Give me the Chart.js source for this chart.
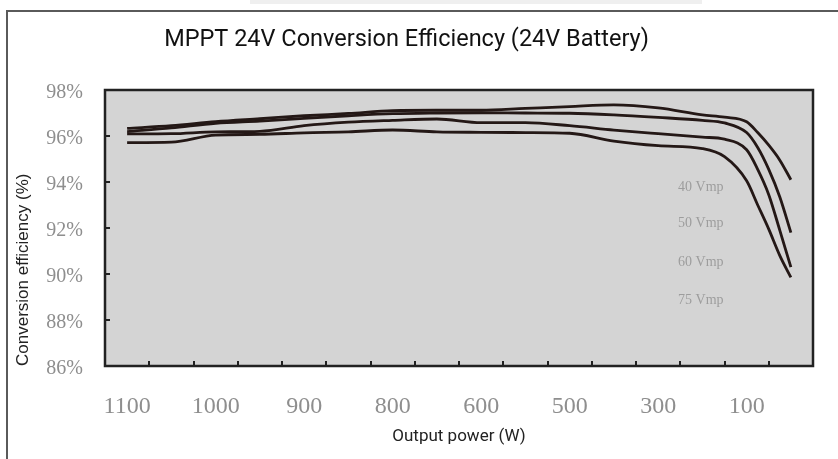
<!DOCTYPE html>
<html>
<head>
<meta charset="utf-8">
<script src="https://cdn.jsdelivr.net/npm/chart.js@4.4.1/dist/chart.umd.min.js"></script>
<style>
  html, body { margin: 0; padding: 0; background: #fff; }
  canvas { display: block; }
</style>
</head>
<body>
<canvas id="effChart" width="838" height="459"></canvas>
<script>
// output power labels under the axis, and where they sit on the index scale
var powerLabels = ['1100', '1000', '900', '800', '600', '500', '300', '100'];
var powerLabelPos = [0.5, 2.5, 4.5, 6.5, 8.5, 10.5, 12.5, 14.5];

// shared sampling positions along the x scale
var samplePos = [0.5, 1.5, 2.5, 3.5, 4.5, 5.5, 6.5, 7.5, 8.5, 9.5, 10.5, 11.5, 12.5, 13.5, 14, 14.5, 14.75, 15, 15.25, 15.5];

// efficiency (%) per input voltage
var eff40 = [96.33, 96.45, 96.62, 96.75, 96.88, 96.98, 97.10, 97.12, 97.12, 97.20, 97.28, 97.35, 97.22, 96.92, 96.82, 96.62, 96.15, 95.60, 94.95, 94.10];
var eff50 = [96.19, 96.35, 96.55, 96.65, 96.77, 96.88, 96.97, 97.00, 97.01, 97.00, 96.99, 96.92, 96.81, 96.68, 96.57, 96.15, 95.50, 94.55, 93.35, 91.80];
var eff60 = [96.09, 96.10, 96.18, 96.20, 96.45, 96.60, 96.68, 96.74, 96.58, 96.58, 96.45, 96.26, 96.10, 95.95, 95.86, 95.40, 94.55, 93.45, 91.90, 90.30];
var eff75 = [95.71, 95.73, 96.04, 96.07, 96.14, 96.18, 96.26, 96.18, 96.16, 96.15, 96.12, 95.78, 95.58, 95.45, 95.10, 94.05, 93.00, 91.95, 90.80, 89.85];

var seriesNames = ['40 Vmp', '50 Vmp', '60 Vmp', '75 Vmp'];
var yTicks = [86, 88, 90, 92, 94, 96, 98];

function toPoints(vals) {
    return vals.map(function(v, i) { return { x: samplePos[i], y: v }; });
}

var lineColor = '#241816';

// frame, plot background, inner tick marks and curve labels
var decor = {
    id: 'decor',
    beforeDraw: function(chart) {
        var c = chart.ctx, a = chart.chartArea;
        c.save();
        c.fillStyle = '#fff';
        c.fillRect(0, 0, chart.width, chart.height);
        c.fillStyle = '#efefef';
        c.fillRect(250, 0, 452, 4);
        c.strokeStyle = '#5a5a5a';
        c.lineWidth = 2;
        c.beginPath();
        c.moveTo(7, chart.height);
        c.lineTo(7, 11);
        c.lineTo(chart.width, 11);
        c.stroke();
        c.fillStyle = '#d4d4d4';
        c.fillRect(a.left, a.top, a.right - a.left, a.bottom - a.top);
        c.restore();
    },
    afterDatasetsDraw: function(chart) {
        var c = chart.ctx, a = chart.chartArea;
        var xs = chart.scales.x, ys = chart.scales.y;
        c.save();
        c.strokeStyle = '#222';
        c.lineWidth = 2;
        for (var i = 1; i <= 15; i++) {
            var px = Math.round(xs.getPixelForValue(i));
            c.beginPath();
            c.moveTo(px, a.bottom);
            c.lineTo(px, a.bottom - 5);
            c.stroke();
        }
        for (var j = 1; j < yTicks.length - 1; j++) {
            var py = Math.round(ys.getPixelForValue(yTicks[j]));
            c.beginPath();
            c.moveTo(a.left, py);
            c.lineTo(a.left + 5, py);
            c.stroke();
        }
        c.lineWidth = 2.5;
        c.strokeRect(a.left, a.top, a.right - a.left, a.bottom - a.top);

        c.fillStyle = '#9d9d9d';
        c.font = '14px "Liberation Serif", serif';
        c.textBaseline = 'middle';
        var labY = [93.78, 92.2, 90.52, 88.87];
        for (var k = 0; k < seriesNames.length; k++) {
            c.fillText(seriesNames[k], xs.getPixelForValue(12.95), ys.getPixelForValue(labY[k]));
        }
        c.restore();
    }
};

var ctx = document.getElementById('effChart').getContext('2d');
var chart = new Chart(ctx, {
    type: 'line',
    data: {
        datasets: [eff40, eff50, eff60, eff75].map(function(vals, i) {
            return {
                label: seriesNames[i],
                data: toPoints(vals),
                borderColor: lineColor,
                borderWidth: 2.8,
                pointRadius: 0,
                fill: false,
                cubicInterpolationMode: 'monotone'
            };
        })
    },
    options: {
        responsive: false,
        animation: false,
        devicePixelRatio: 1,
        layout: { padding: { left: 0, right: 25, top: 0, bottom: 0 } },
        plugins: {
            legend: { display: false },
            tooltip: { enabled: false },
            title: {
                display: true,
                text: 'MPPT 24V Conversion Efficiency (24V Battery)',
                color: '#111',
                font: { family: 'Roboto', size: 23.5, weight: 'normal' },
                padding: { top: 26, bottom: 35.8 }
            }
        },
        scales: {
            x: {
                type: 'linear',
                min: 0,
                max: 16,
                afterFit: function(scale) { scale.height = 93; },
                afterBuildTicks: function(scale) {
                    scale.ticks = powerLabelPos.map(function(v) { return { value: v }; });
                },
                ticks: {
                    autoSkip: false,
                    maxRotation: 0,
                    padding: 26.6,
                    color: '#8e8e8e',
                    font: { family: '"Liberation Serif", serif', size: 24 },
                    callback: function(value) {
                        var idx = powerLabelPos.indexOf(value);
                        return idx >= 0 ? powerLabels[idx] : '';
                    }
                },
                grid: { display: false, drawTicks: false },
                border: { display: false },
                title: {
                    display: true,
                    text: 'Output power (W)',
                    color: '#222',
                    font: { family: 'Roboto', size: 17 },
                    padding: { top: 0, bottom: 11.8 }
                }
            },
            y: {
                min: 86,
                max: 98,
                afterFit: function(scale) { scale.width = 105; },
                afterBuildTicks: function(scale) {
                    scale.ticks = yTicks.map(function(v) { return { value: v }; });
                },
                ticks: {
                    padding: 22,
                    labelOffset: 3,
                    color: '#8e8e8e',
                    font: { family: '"Liberation Serif", serif', size: 20 },
                    callback: function(value) { return value + '%'; }
                },
                grid: { display: false, drawTicks: false },
                border: { display: false },
                title: {
                    display: true,
                    text: 'Conversion efficiency (%)',
                    align: 'start',
                    color: '#222',
                    font: { family: '"Liberation Sans", Arial, sans-serif', size: 17 },
                    padding: { top: 12.8, bottom: 0 }
                }
            }
        }
    },
    plugins: [decor]
});
</script>
</body>
</html>
